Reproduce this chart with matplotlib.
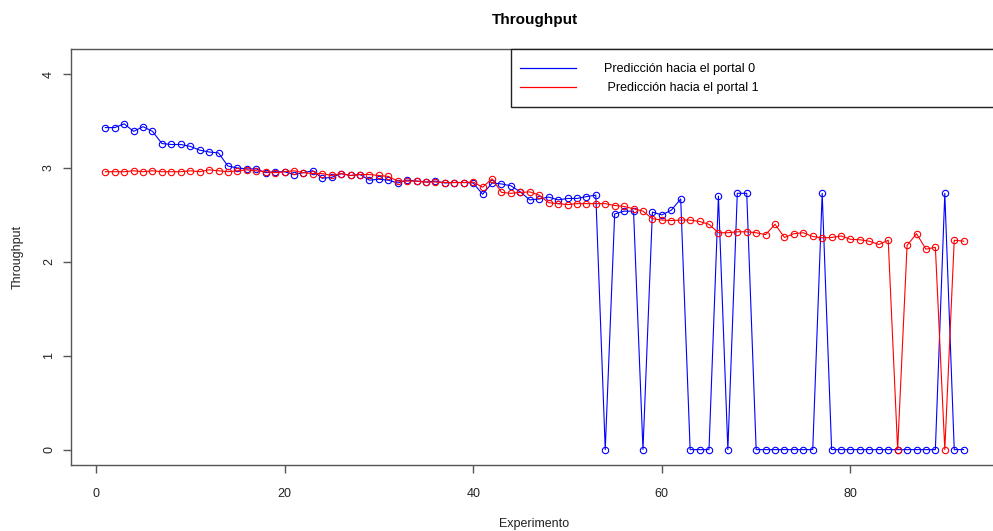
import matplotlib
matplotlib.use("Agg")
import matplotlib.pyplot as plt
from matplotlib.patches import Rectangle
import numpy as np

plt.rcParams['font.family'] = ['Liberation Sans', 'DejaVu Sans']

experimento = list(range(1, 93))
portal0 = [3.43, 3.43, 3.47, 3.39, 3.44, 3.39, 3.26, 3.25, 3.25, 3.23,
           3.19, 3.17, 3.16, 3.02, 3.00, 2.99, 2.99, 2.95, 2.96, 2.96,
           2.93, 2.95, 2.97, 2.89, 2.90, 2.94, 2.92, 2.93, 2.87, 2.88,
           2.87, 2.84, 2.87, 2.86, 2.85, 2.86, 2.84, 2.845, 2.845, 2.84,
           2.72, 2.84, 2.83, 2.81, 2.745, 2.66, 2.67, 2.69, 2.66, 2.675,
           2.675, 2.695, 2.71, 0, 2.51, 2.54, 2.54, 0, 2.53, 2.50,
           2.55, 2.67, 0, 0, 0, 2.70, 0, 2.73, 2.73, 0,
           0, 0, 0, 0, 0, 0, 2.73, 0, 0, 0,
           0, 0, 0, 0, 0, 0, 0, 0, 0, 2.73,
           0, 0]
portal1 = [2.96, 2.96, 2.96, 2.97, 2.96, 2.97, 2.96, 2.96, 2.96, 2.97,
           2.96, 2.98, 2.97, 2.96, 2.97, 2.98, 2.97, 2.96, 2.95, 2.96,
           2.97, 2.95, 2.94, 2.94, 2.92, 2.94, 2.92, 2.93, 2.93, 2.92,
           2.91, 2.86, 2.86, 2.86, 2.85, 2.85, 2.845, 2.845, 2.845, 2.85,
           2.795, 2.885, 2.74, 2.73, 2.74, 2.745, 2.71, 2.63, 2.62, 2.61,
           2.62, 2.62, 2.62, 2.62, 2.60, 2.59, 2.565, 2.54, 2.46, 2.445,
           2.44, 2.445, 2.445, 2.43, 2.40, 2.31, 2.31, 2.32, 2.32, 2.31,
           2.29, 2.40, 2.26, 2.30, 2.31, 2.27, 2.255, 2.26, 2.275, 2.24,
           2.235, 2.22, 2.185, 2.23, 0, 2.175, 2.30, 2.135, 2.155, 0,
           2.23, 2.22]
labels = ["Predicción hacia el portal 0", " Predicción hacia el portal 1"]
xticks = [0, 20, 40, 60, 80]
yticks = [0, 1, 2, 3, 4]

W, H = 993, 531
fig = plt.figure(figsize=(W / 100, H / 100), dpi=100)
L, R, T, B = 71, 998, 49.3, 465
ax = fig.add_axes([L / W, 1 - B / H, (R - L) / W, (B - T) / H])

ax.plot(experimento, portal0, color='#0000FF', lw=0.8, marker='o', ms=4.6,
        mfc='none', mew=0.8, label=labels[0])
ax.plot(experimento, portal1, color='#FF0000', lw=0.8, marker='o', ms=4.6,
        mfc='none', mew=0.8, label=labels[1])

ax.set_xlim(-2.64, 95.64)
ax.set_ylim(-0.164, 4.264)
ax.set_xticks(xticks)
ax.set_yticks(yticks)
for s in ax.spines.values():
    s.set_color('#555555')
    s.set_linewidth(1)
ax.tick_params(axis='both', direction='out', length=5.5, width=1, color='#555555',
               labelsize=9, labelcolor='#222222')
ax.tick_params(axis='x', pad=11)
ax.tick_params(axis='y', pad=6)
for lab in ax.get_yticklabels():
    lab.set_rotation(90)
    lab.set_va('center')

ax.set_xlabel("Experimento", fontsize=9, labelpad=13, color='#222222')
ax.set_ylabel("Throughput", fontsize=9, labelpad=14, color='#222222')
ax.set_title("Throughput", fontsize=11, fontweight='bold', pad=18)

# legend box (R style, top-right)
rx0 = (511 - L) / (R - L)
ry0 = (B - 107) / (B - T)
ax.add_patch(Rectangle((rx0, ry0), 1 - rx0 + 0.01, 1 - ry0, transform=ax.transAxes,
                       facecolor='white', edgecolor='#222222', lw=1, clip_on=False, zorder=5))
leg = ax.legend(loc='upper left', bbox_to_anchor=((520 - L) / (R - L), (B - 63) / (B - T)),
                frameon=False, borderpad=0, borderaxespad=0, handlelength=4.5,
                handletextpad=2.2, labelspacing=0.55, fontsize=9)
leg.set_zorder(6)
for h in leg.get_lines():
    h.set_marker('')
    h.set_linewidth(0.9)

fig.savefig("out.png", dpi=100)
